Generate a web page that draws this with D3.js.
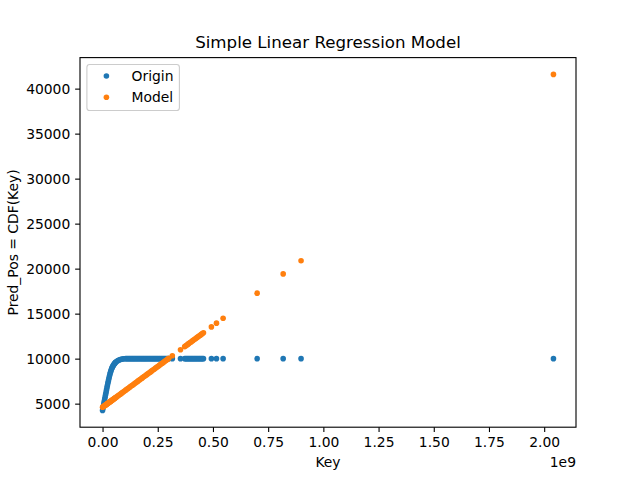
<!DOCTYPE html>
<html>
<head>
<meta charset="utf-8">
<script src="https://cdn.jsdelivr.net/npm/d3@7"></script>
<style>
  html, body { margin: 0; padding: 0; background: #fff; }
  svg { display: block; }
  text { font-family: "DejaVu Sans", sans-serif; fill: #000; }
</style>
</head>
<body>
<svg id="chart" width="640" height="480"></svg>
<script>
// ---- data (keys in millions) ----
const keyMillions = [
  0,2,4,6,8,10,12,14,16,18,20,22,24,26,28,30,32,34,36,38,40,42,44,46,48,50,52,54,56,58,60,
  65,70,75,80,85,90,95,100,105,110,115,120,125,130,135,140,145,150,155,160,165,170,175,180,
  185,190,195,200,205,210,215,220,225,230,235,240,245,250,255,260,265,270,275,280,285,290,295,300,
  316,353,372,377,382,387,392,397,402,407,412,417,422,427,432,437,442,447,452,457,
  493,516,546,700,818,899,2042
];
const originPos = [
  4250,4500,4760,5020,5280,5530,5780,6030,6280,6530,6780,7020,7260,7490,7710,7920,8120,8310,8490,8650,8800,8920,9030,9130,9220,9300,9370,9440,9500,9560,9610,
  9710,9790,9850,9900,9940,9965,9985,9995,10000,10000,10000,10000,10000,10000,10000,10000,10000,10000,10000,10000,10000,10000,10000,10000,
  10000,10000,10000,10000,10000,10000,10000,10000,10000,10000,10000,10000,10000,10000,10000,10000,10000,10000,10000,10000,10000,10000,10000,10000,
  10000,10000,10000,10000,10000,10000,10000,10000,10000,10000,10000,10000,10000,10000,10000,10000,10000,10000,10000,10000,
  10000,10000,10000,10000,10000,10000,10000
];
const modelPos = [
  4600,4636,4672,4709,4745,4781,4817,4854,4890,4926,4962,4998,5035,5071,5107,5143,5180,5216,5252,5288,5324,5361,5397,5433,5469,5506,5542,5578,5614,5650,5687,
  5777,5868,5958,6049,6139,6230,6320,6411,6502,6592,6683,6773,6864,6954,7045,7135,7226,7317,7407,7498,7588,7679,7769,7860,
  7950,8041,8131,8222,8313,8403,8494,8584,8675,8765,8856,8946,9037,9128,9218,9309,9399,9490,9580,9671,9761,9852,9942,10033,
  10323,10993,11337,11427,11518,11609,11699,11790,11880,11971,12061,12152,12242,12333,12424,12514,12605,12695,12786,12876,
  13528,13945,14488,17277,19414,20881,41581
];
const seriesNames = ["Origin", "Model"];
const seriesColors = ["#1f77b4", "#ff7f0e"];
const xTickValues = [0, 0.25e9, 0.5e9, 0.75e9, 1.0e9, 1.25e9, 1.5e9, 1.75e9, 2.0e9];
const yTickValues = [5000, 10000, 15000, 20000, 25000, 30000, 35000, 40000];
const titleText = "Simple Linear Regression Model";
const xLabelText = "Key";
const yLabelText = "Pred_Pos = CDF(Key)";
const xOffsetText = "1e9";

// ---- layout ----
const W = 640, H = 480;
const L = 80, R = 576, T = 57.6, B = 427.2;
const fs = 13.89;
const tickLen = 4.86, pad = 4.86;

const keys = keyMillions.map(k => k * 1e6);
const origin = keys.map((k, i) => ({x: k, y: originPos[i]}));
const model = keys.map((k, i) => ({x: k, y: modelPos[i]}));

function padExtent(ext) {
  const r = ext[1] - ext[0];
  return [ext[0] - 0.05 * r, ext[1] + 0.05 * r];
}
const xExt = d3.extent(keys);
const yExt = d3.extent(originPos.concat(modelPos));
const x = d3.scaleLinear().domain(padExtent(xExt)).range([L, R]);
const y = d3.scaleLinear().domain(padExtent(yExt)).range([B, T]);

const svg = d3.select("#chart");
svg.append("rect").attr("width", W).attr("height", H).attr("fill", "#fff");

// points
const gPts = svg.append("g");
[origin, model].forEach((data, si) => {
  gPts.append("g").selectAll("circle").data(data).join("circle")
    .attr("cx", d => x(d.x)).attr("cy", d => y(d.y))
    .attr("r", 2.8).attr("fill", seriesColors[si]);
});

// axes
const xAxis = d3.axisBottom(x).tickValues(xTickValues)
  .tickFormat(d => (d / 1e9).toFixed(2)).tickSize(tickLen).tickPadding(pad);
const yAxis = d3.axisLeft(y).tickValues(yTickValues)
  .tickFormat(d => String(d)).tickSize(tickLen).tickPadding(pad);

const gx = svg.append("g").attr("transform", `translate(0,${B})`).call(xAxis);
const gy = svg.append("g").attr("transform", `translate(${L},0)`).call(yAxis);
[gx, gy].forEach(g => {
  g.select(".domain").remove();
  g.selectAll(".tick line").attr("stroke", "#000").attr("stroke-width", 1.11);
  g.selectAll(".tick text").attr("font-family", "DejaVu Sans").attr("font-size", fs).attr("fill", "#000");
});
gx.selectAll(".tick text").attr("dy", null).attr("y", tickLen + pad).attr("dominant-baseline", "hanging");
gy.selectAll(".tick text").attr("dy", "0.35em");

// frame
svg.append("rect").attr("x", L).attr("y", T).attr("width", R - L).attr("height", B - T)
  .attr("fill", "none").attr("stroke", "#000").attr("stroke-width", 1.11);

// title & labels
svg.append("text").attr("x", (L + R) / 2).attr("y", T - 10).attr("text-anchor", "middle")
  .attr("font-size", 16.67).text(titleText);
svg.append("text").attr("x", (L + R) / 2).attr("y", 467).attr("text-anchor", "middle")
  .attr("font-size", fs).text(xLabelText);
svg.append("text").attr("x", R).attr("y", 467).attr("text-anchor", "end")
  .attr("font-size", fs).text(xOffsetText);
svg.append("text").attr("transform", `translate(18,${(T + B) / 2}) rotate(-90)`)
  .attr("text-anchor", "middle").attr("font-size", fs).text(yLabelText);

// legend
const lg = svg.append("g");
lg.append("rect").attr("x", 86.9).attr("y", 64.5).attr("width", 92.5).attr("height", 46)
  .attr("rx", 2.8).attr("fill", "#fff").attr("fill-opacity", 0.8)
  .attr("stroke", "#cccccc").attr("stroke-width", 1.11);
seriesNames.forEach((name, i) => {
  const cy = 76 + i * 21.3;
  lg.append("circle").attr("cx", 106.4).attr("cy", cy).attr("r", 2.8).attr("fill", seriesColors[i]);
  lg.append("text").attr("x", 131.5).attr("y", cy).attr("dy", "0.35em")
    .attr("font-size", fs).text(name);
});
</script>
</body>
</html>
